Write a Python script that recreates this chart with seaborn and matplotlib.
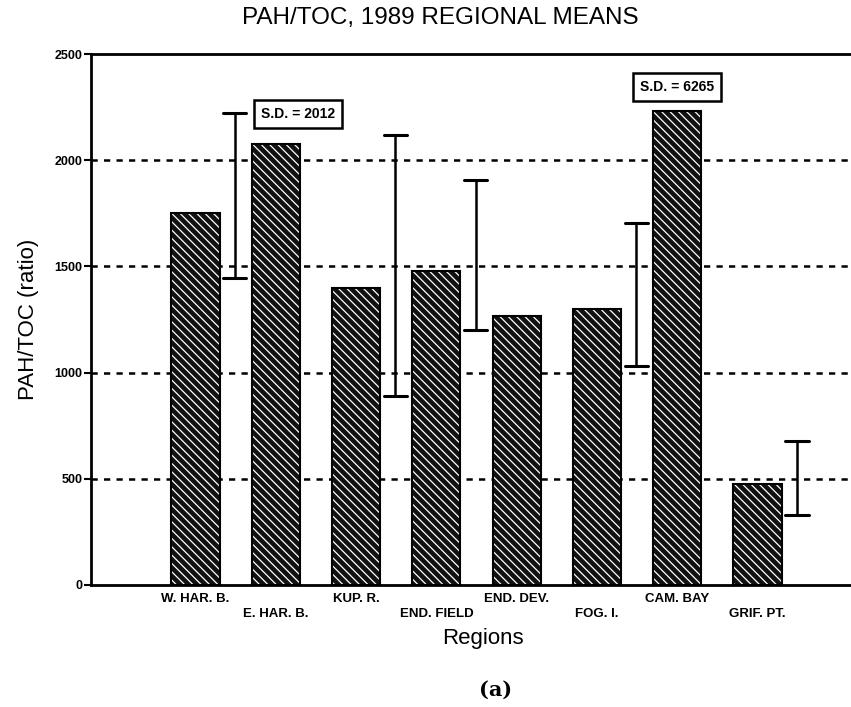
import matplotlib
matplotlib.use("Agg")
import matplotlib.pyplot as plt
import seaborn as sns
import numpy as np

# Data
regions = ["W. HAR. B.", "E. HAR. B.", "KUP. R.", "END. FIELD",
           "END. DEV.", "FOG. I.", "CAM. BAY", "GRIF. PT."]
means = [1750, 2075, 1400, 1480, 1265, 1300, 2230, 475]

# error bars (drawn beside the bars, as in the original figure)
err_idx = [0, 2, 3, 5, 7]
err_low = [1445, 890, 1200, 1030, 330]
err_high = [2220, 2120, 1905, 1705, 680]

# S.D. notes for the bars whose S.D. is off scale
sd_idx = [1, 6]
sd_text = ["S.D. = 2012", "S.D. = 6265"]
sd_y = [2218, 2345]

sns.set_style("white")
plt.rcParams["font.family"] = ["Liberation Sans", "DejaVu Sans"]
plt.rcParams["hatch.linewidth"] = 0.9
for k in ["text.color", "axes.labelcolor", "xtick.color", "ytick.color"]:
    plt.rcParams[k] = "black"

fig = plt.figure(figsize=(8.51, 7.07), dpi=100)
ax = fig.add_axes([0.107, 0.1726, 0.92, 0.751])

sns.barplot(x=regions, y=means, color="black", width=0.6, ax=ax,
            saturation=1, edgecolor="white", linewidth=0)
for p in ax.patches:
    p.set_hatch("\\\\\\\\")
    p.set_facecolor("#111111")
    p.set_edgecolor("white")
# outlines
ax.bar(np.arange(len(means)), means, width=0.6, fill=False,
       edgecolor="black", linewidth=1.5, zorder=3)

# error bars
for i, lo, hi in zip(err_idx, err_low, err_high):
    xe = i + 0.49
    ax.plot([xe, xe], [lo, hi], color="black", lw=1.8, zorder=4)
    ax.plot([xe - 0.145, xe + 0.145], [lo, lo], color="black", lw=2.2, zorder=4)
    ax.plot([xe - 0.145, xe + 0.145], [hi, hi], color="black", lw=2.2, zorder=4)

# S.D. boxes
for i, t, y in zip(sd_idx, sd_text, sd_y):
    ax.text(i + 0.28 if i == 1 else i, y, t, ha="center", va="center",
            fontsize=10, fontweight="bold", zorder=5,
            bbox=dict(boxstyle="square,pad=0.5", fc="white", ec="black", lw=1.8))

# dashed grid lines
for g in [500, 1000, 1500, 2000]:
    ax.axhline(g, color="black", ls=(0, (2.5, 2.5)), lw=1.8, zorder=0)

ax.set_ylim(0, 2500)
ax.set_xlim(-1.3, 8.45)
ax.set_yticks([0, 500, 1000, 1500, 2000, 2500])
ax.set_yticklabels(["0", "500", "1000", "1500", "2000", "2500"],
                   fontsize=9, fontweight="bold")

labels = [r if k % 2 == 0 else "\n" + r for k, r in enumerate(regions)]
ax.set_xticks(np.arange(len(regions)))
ax.set_xticklabels(labels, fontsize=9.5, fontweight="bold", linespacing=1.25)
ax.set_xticks(np.arange(len(regions) - 1) + 0.5, minor=True)
ax.tick_params(axis="x", which="major", length=0, pad=6)
ax.tick_params(axis="x", which="minor", length=5, width=1.5, direction="out")
ax.tick_params(axis="y", length=5, width=1.5, direction="out", left=True, pad=1)

for s in ["left", "bottom", "top"]:
    ax.spines[s].set_linewidth(2)
    ax.spines[s].set_color("black")
ax.spines["right"].set_visible(False)

ax.set_xlabel("Regions", fontsize=16, labelpad=6)
ax.set_ylabel("PAH/TOC (ratio)", fontsize=16)
ax.yaxis.set_label_coords(-0.066, 0.5)
fig.text(0.517, 0.975, "PAH/TOC, 1989 REGIONAL MEANS", ha="center", va="center",
         fontsize=17.5)
fig.text(0.582, 0.025, "(a)", ha="center", va="center", fontsize=15,
         fontweight="bold", family="DejaVu Serif")

fig.savefig("out.png", dpi=100)
